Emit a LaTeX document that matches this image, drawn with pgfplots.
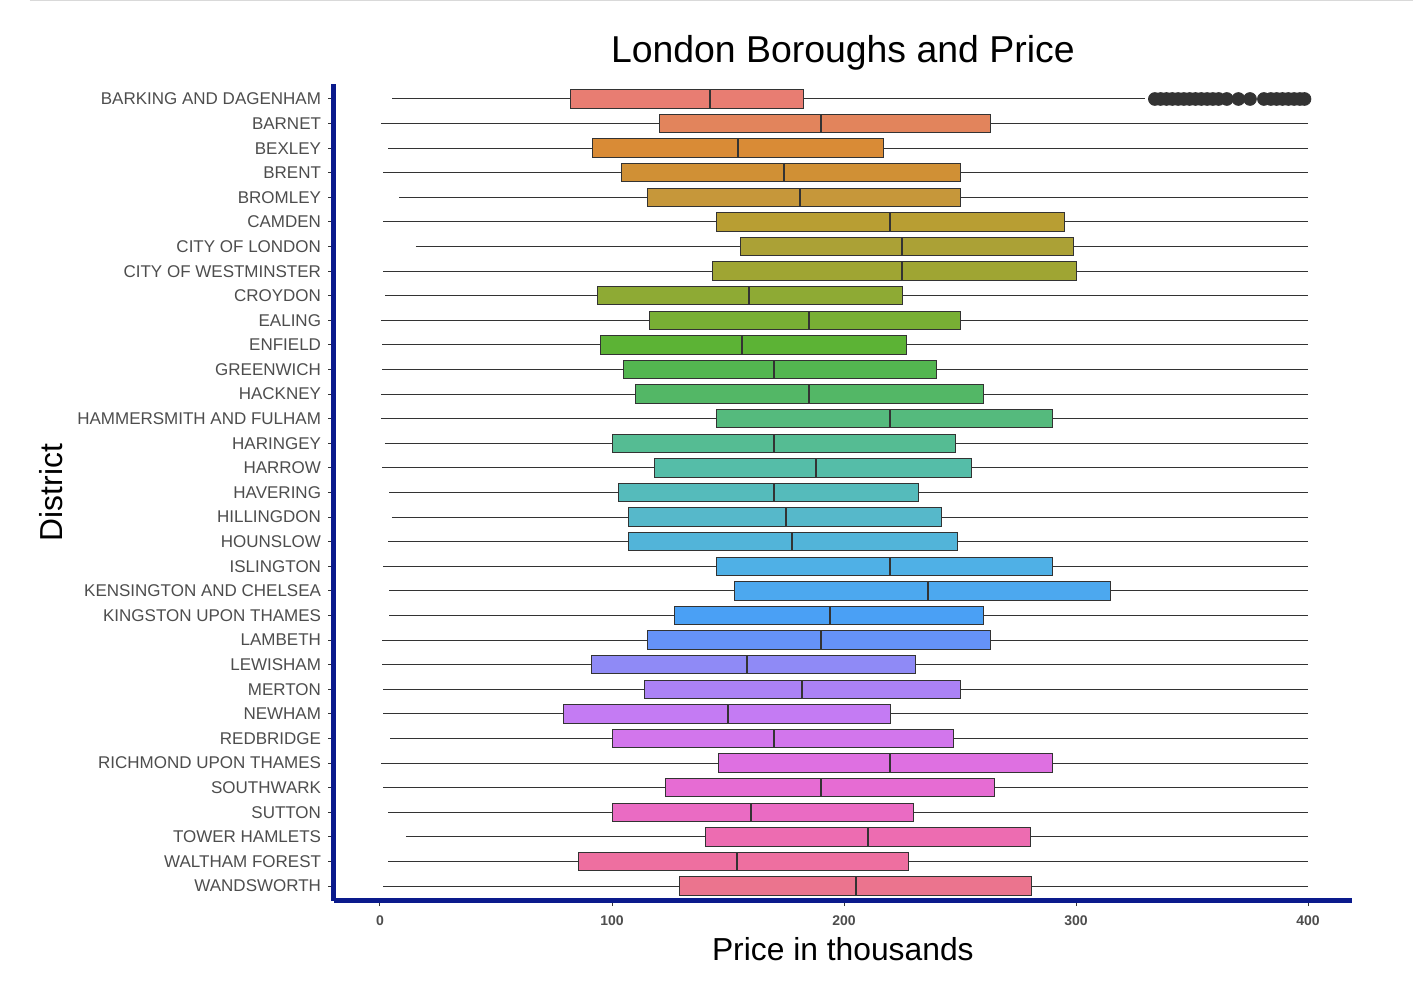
\documentclass[border=0pt]{standalone}
\usepackage{fontspec}
\setmainfont{Liberation Sans}
\usepackage{pgfplots}
\pgfplotsset{compat=1.18}
\usepgfplotslibrary{statistics}
\definecolor{c1}{HTML}{E87D72}
\definecolor{c2}{HTML}{E2845C}
\definecolor{c3}{HTML}{D98B36}
\definecolor{c4}{HTML}{D09035}
\definecolor{c5}{HTML}{C6973A}
\definecolor{c6}{HTML}{B89E33}
\definecolor{c7}{HTML}{ABA136}
\definecolor{c8}{HTML}{9FA533}
\definecolor{c9}{HTML}{8EAA34}
\definecolor{c10}{HTML}{78AF34}
\definecolor{c11}{HTML}{5CB335}
\definecolor{c12}{HTML}{53B650}
\definecolor{c13}{HTML}{53B766}
\definecolor{c14}{HTML}{55BA7D}
\definecolor{c15}{HTML}{55BC93}
\definecolor{c16}{HTML}{55BDA8}
\definecolor{c17}{HTML}{55BBBB}
\definecolor{c18}{HTML}{56B8CA}
\definecolor{c19}{HTML}{52B4D9}
\definecolor{c20}{HTML}{4FB0E6}
\definecolor{c21}{HTML}{4CA8EF}
\definecolor{c22}{HTML}{4AA0F5}
\definecolor{c23}{HTML}{6592F8}
\definecolor{c24}{HTML}{8F8AF6}
\definecolor{c25}{HTML}{AB82F5}
\definecolor{c26}{HTML}{C47BF3}
\definecolor{c27}{HTML}{D276EC}
\definecolor{c28}{HTML}{DE70E1}
\definecolor{c29}{HTML}{E66CD3}
\definecolor{c30}{HTML}{EA6BC3}
\definecolor{c31}{HTML}{ED6CB1}
\definecolor{c32}{HTML}{EE6FA0}
\definecolor{c33}{HTML}{EB748E}
\definecolor{axisblue}{HTML}{0A1A8C}
\definecolor{tickgrey}{HTML}{333333}
\definecolor{labgrey}{HTML}{4D4D4D}
% position, lower whisker, Q1, median, Q3, upper whisker, colour
\newcommand{\bp}[7]{\addplot[boxplot prepared={draw position=#1, lower whisker=#2, lower quartile=#3, median=#4, upper quartile=#5, upper whisker=#6}, fill=#7, draw=tickgrey, line width=0.5pt] coordinates {};}
\begin{document}
\begin{tikzpicture}
\path[use as bounding box] (-166.8pt,-42.12pt) rectangle (539.7pt,450.38pt);
\draw[line width=0.6pt, color=black!15] (-151.8pt,450.0pt) -- (539.7pt,450.0pt);
\begin{axis}[
  scale only axis, width=509.24pt, height=408.26pt,
  xmin=-20, xmax=419, ymin=0.4, ymax=33.6,
  axis x line*=bottom, axis y line*=left,
  axis line style={-, line width=2.4pt, color=axisblue},
  tick align=outside, major tick length=2.7pt,
  tick style={color=tickgrey, line width=0.5pt},
  xtick={0,100,200,300,400},
  ytick={1,...,33},
  yticklabels={WANDSWORTH,WALTHAM FOREST,TOWER HAMLETS,SUTTON,SOUTHWARK,RICHMOND UPON THAMES,REDBRIDGE,NEWHAM,MERTON,LEWISHAM,LAMBETH,KINGSTON UPON THAMES,KENSINGTON AND CHELSEA,ISLINGTON,HOUNSLOW,HILLINGDON,HAVERING,HARROW,HARINGEY,HAMMERSMITH AND FULHAM,HACKNEY,GREENWICH,ENFIELD,EALING,CROYDON,CITY OF WESTMINSTER,CITY OF LONDON,CAMDEN,BROMLEY,BRENT,BEXLEY,BARNET,BARKING AND DAGENHAM},
  /pgf/number format/assume math mode=true,
  xticklabel style={font=\bfseries\fontsize{7}{8}\selectfont, text=labgrey, anchor=base, inner sep=0pt, yshift=-9.9pt},
  yticklabel style={font=\fontsize{8.5}{10}\selectfont, text=labgrey, anchor=east, inner sep=0pt, xshift=-3.4pt},
  boxplot/draw direction=x,
  boxplot/box extend=0.75,
  boxplot/whisker extend=0,
  boxplot/every median/.style={line width=1pt},
  every axis title shift=0pt,
  title={London Boroughs and Price},
  title style={at={(axis description cs:0.5,1.02638)}, anchor=base, font=\fontsize{18.7}{22}\selectfont, inner sep=0pt},
  xlabel={Price in thousands},
  xlabel style={at={(axis description cs:0.5,-0.07255)}, anchor=base, font=\fontsize{15.9}{19}\selectfont, inner sep=0pt},
  ylabel={District},
  ylabel style={at={(axis description cs:-0.26569,0.5)}, anchor=base, font=\fontsize{15.9}{19}\selectfont, inner sep=0pt},
]
\bp{33}{5.3}{82.2}{142.2}{182.6}{329.7}{c1}
\bp{32}{0.4}{120.3}{190}{263}{400}{c2}
\bp{31}{3.6}{91.7}{154.2}{217}{400}{c3}
\bp{30}{1.3}{104.2}{174.1}{250}{400}{c4}
\bp{29}{8.3}{115.2}{181.2}{250}{400}{c5}
\bp{28}{1.3}{145.1}{220}{295}{400}{c6}
\bp{27}{15.4}{155.2}{225}{299}{400}{c7}
\bp{26}{1.3}{143.3}{225}{300}{400}{c8}
\bp{25}{2.3}{93.8}{159.2}{225}{400}{c9}
\bp{24}{0.4}{116}{185}{250}{400}{c10}
\bp{23}{1}{95}{156}{227}{400}{c11}
\bp{22}{1}{105}{170}{240}{400}{c12}
\bp{21}{0.4}{110}{185}{260}{400}{c13}
\bp{20}{0.4}{145}{220}{290}{400}{c14}
\bp{19}{2}{100}{170}{248}{400}{c15}
\bp{18}{1}{118.5}{188}{255}{400}{c16}
\bp{17}{4}{103}{170}{232}{400}{c17}
\bp{16}{5}{107}{175}{242}{400}{c18}
\bp{15}{3.5}{107}{177.5}{249}{400}{c19}
\bp{14}{1.3}{145}{220}{290}{400}{c20}
\bp{13}{4}{153}{236}{315}{400}{c21}
\bp{12}{4}{127}{194}{260}{400}{c22}
\bp{11}{1}{115.5}{190}{263}{400}{c23}
\bp{10}{1}{91}{158}{231}{400}{c24}
\bp{9}{1.5}{114}{182}{250}{400}{c25}
\bp{8}{1.3}{79}{150}{220}{400}{c26}
\bp{7}{4.5}{100}{170}{247}{400}{c27}
\bp{6}{0.5}{146}{220}{290}{400}{c28}
\bp{5}{1.3}{123}{190}{265}{400}{c29}
\bp{4}{3.5}{100}{160}{230}{400}{c30}
\bp{3}{11}{140.5}{210.2}{280.4}{400}{c31}
\bp{2}{3.4}{85.7}{153.8}{227.8}{400}{c32}
\bp{1}{1.3}{129.3}{205.3}{281}{400}{c33}
\addplot[only marks, mark=*, mark size=3.2pt, color=tickgrey, mark options={fill=tickgrey, draw=tickgrey}] coordinates {
(334,33) (336.5,33) (339,33) (341.5,33) (344,33) (346.5,33) (349,33) (351.5,33) (354,33) (356.5,33) (359,33) (361.5,33)
(365,33) (370,33) (375,33) (381,33)
(384,33) (386.5,33) (389,33) (391.5,33) (394,33) (396.5,33) (398.5,33)};
\end{axis}
\end{tikzpicture}
\end{document}
